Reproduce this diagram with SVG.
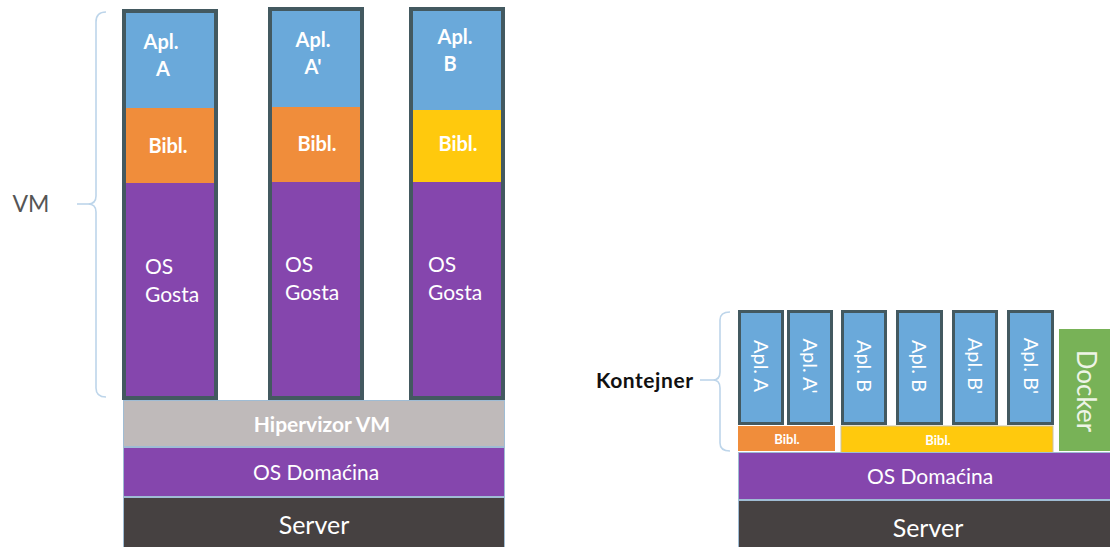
<svg xmlns="http://www.w3.org/2000/svg" width="1110" height="547" viewBox="0 0 1110 547">
<style>
.frame{fill:#435960}
.apl{fill:#6aa9da}
.orange{fill:#f08d3b}
.yellow{fill:#ffc90d}
.purple{fill:#8546ad}
.wt{fill:#ffffff;font-family:Lato,"Liberation Sans",sans-serif}
.b{font-weight:bold}
.brace{fill:none;stroke:#bdd5ea;stroke-width:1.6}
.band{stroke:#9fbcd4;stroke-width:1}
</style>
<rect width="1110" height="547" fill="#ffffff"/>

<g id="vm-brace">
<path class="brace" d="M106,12 Q96,12 96,22 L96,196 Q96,204 88,204 Q96,204 96,212 L96,388 Q96,397 106,397"/>
<line class="brace" x1="77" y1="204" x2="88" y2="204"/>
<text x="31" y="212" text-anchor="middle" font-family="Lato,'Liberation Sans',sans-serif" font-size="23" fill="#555555">VM</text>
</g>

<g id="vm1">
<rect class="frame" x="122" y="9" width="96" height="391"/>
<rect class="apl" x="126" y="13" width="88" height="95"/>
<rect class="orange" x="126" y="108" width="88" height="75"/>
<rect class="purple" x="126" y="183" width="88" height="213"/>
<text class="wt b" x="161" y="49" font-size="20" text-anchor="middle">Apl.</text>
<text class="wt b" x="163" y="76" font-size="20" text-anchor="middle">A</text>
<text class="wt b" x="168" y="153" font-size="20" text-anchor="middle">Bibl.</text>
<text class="wt" x="145" y="274" font-size="21">OS</text>
<text class="wt" x="145" y="302" font-size="21">Gosta</text>
</g>

<g id="vm2">
<rect class="frame" x="268" y="7" width="96" height="393"/>
<rect class="apl" x="272" y="11" width="88" height="96"/>
<rect class="orange" x="272" y="107" width="88" height="75"/>
<rect class="purple" x="272" y="182" width="88" height="214"/>
<text class="wt b" x="313" y="47" font-size="20" text-anchor="middle">Apl.</text>
<text class="wt b" x="313" y="74" font-size="20" text-anchor="middle">A'</text>
<text class="wt b" x="317" y="151" font-size="20" text-anchor="middle">Bibl.</text>
<text class="wt" x="285" y="272" font-size="21">OS</text>
<text class="wt" x="285" y="300" font-size="21">Gosta</text>
</g>

<g id="vm3">
<rect class="frame" x="409" y="7" width="96" height="393"/>
<rect class="apl" x="413" y="11" width="88" height="99"/>
<rect class="yellow" x="413" y="110" width="88" height="72"/>
<rect class="purple" x="413" y="182" width="88" height="214"/>
<text class="wt b" x="455" y="44" font-size="20" text-anchor="middle">Apl.</text>
<text class="wt b" x="450" y="71" font-size="20" text-anchor="middle">B</text>
<text class="wt b" x="458" y="151" font-size="20" text-anchor="middle">Bibl.</text>
<text class="wt" x="428" y="272" font-size="21">OS</text>
<text class="wt" x="428" y="300" font-size="21">Gosta</text>
</g>

<g id="hipervizor">
<rect class="band" x="123.5" y="400.5" width="381" height="46" fill="#bfbaba"/>
<text class="wt b" x="322" y="432" font-size="21" text-anchor="middle">Hipervizor VM</text>
</g>
<g id="os-domacina-left">
<rect class="band purple" x="123.5" y="447.5" width="381" height="49"/>
<text class="wt" x="316" y="480" font-size="21" text-anchor="middle">OS Domaćina</text>
</g>
<g id="server-left">
<rect class="band" x="123.5" y="497.5" width="381" height="50" fill="#464141"/>
<text class="wt" x="314" y="534" font-size="25" text-anchor="middle" fill="#eeeeee">Server</text>
</g>

<g id="kontejner-brace">
<path class="brace" d="M730,312 Q720,312 720,320 L720,372 Q720,380 713,380 Q720,380 720,388 L720,443 Q720,451 730,451"/>
<line class="brace" x1="700" y1="380" x2="713" y2="380"/>
<text x="596" y="388" font-family="Lato,'Liberation Sans',sans-serif" font-size="21" font-weight="bold" fill="#111111" textLength="97">Kontejner</text>
</g>

<g id="c1"><rect class="frame" x="738" y="310" width="46" height="115"/><rect class="apl" x="741" y="313" width="40" height="109"/>
<text class="wt" font-size="20" text-anchor="middle" transform="translate(754,366) rotate(90)">Apl. A</text></g>
<g id="c2"><rect class="frame" x="787" y="310" width="46" height="115"/><rect class="apl" x="790" y="313" width="40" height="109"/>
<text class="wt" font-size="20" text-anchor="middle" transform="translate(803,366) rotate(90)">Apl. A'</text></g>
<g id="c3"><rect class="frame" x="841" y="310" width="46" height="115"/><rect class="apl" x="844" y="313" width="40" height="109"/>
<text class="wt" font-size="20" text-anchor="middle" transform="translate(857,366) rotate(90)">Apl. B</text></g>
<g id="c4"><rect class="frame" x="896" y="310" width="47" height="115"/><rect class="apl" x="899" y="313" width="41" height="109"/>
<text class="wt" font-size="20" text-anchor="middle" transform="translate(912,366) rotate(90)">Apl. B</text></g>
<g id="c5"><rect class="frame" x="952" y="310" width="46" height="115"/><rect class="apl" x="955" y="313" width="40" height="109"/>
<text class="wt" font-size="20" text-anchor="middle" transform="translate(968,366) rotate(90)">Apl. B'</text></g>
<g id="c6"><rect class="frame" x="1007" y="310" width="47" height="115"/><rect class="apl" x="1010" y="313" width="41" height="109"/>
<text class="wt" font-size="20" text-anchor="middle" transform="translate(1024,366) rotate(90)">Apl. B'</text></g>

<g id="bibl-a">
<rect class="orange" x="738" y="426" width="97" height="25"/>
<text class="wt b" x="787" y="444" font-size="13" text-anchor="middle">Bibl.</text>
</g>
<g id="bibl-b">
<rect class="yellow" x="841" y="426" width="212" height="27" stroke="#c9c2a6" stroke-width="1"/>
<text class="wt b" x="938" y="445" font-size="13" text-anchor="middle">Bibl.</text>
</g>
<g id="docker">
<rect x="1059" y="329" width="52" height="122" fill="#78b257"/>
<text x="1077" y="391" font-family="Lato,'Liberation Sans',sans-serif" font-size="26" fill="#eef4e6" text-anchor="middle" transform="rotate(90 1077 391)">Docker</text>
</g>
<g id="os-domacina-right">
<rect class="band purple" x="738.5" y="452.5" width="372" height="47"/>
<text class="wt" x="930" y="484" font-size="21" text-anchor="middle">OS Domaćina</text>
</g>
<g id="server-right">
<rect class="band" x="738.5" y="500.5" width="372" height="47" fill="#464141"/>
<text class="wt" x="928" y="537" font-size="25" text-anchor="middle" fill="#eeeeee">Server</text>
</g>
<g id="connectors"></g>
</svg>
